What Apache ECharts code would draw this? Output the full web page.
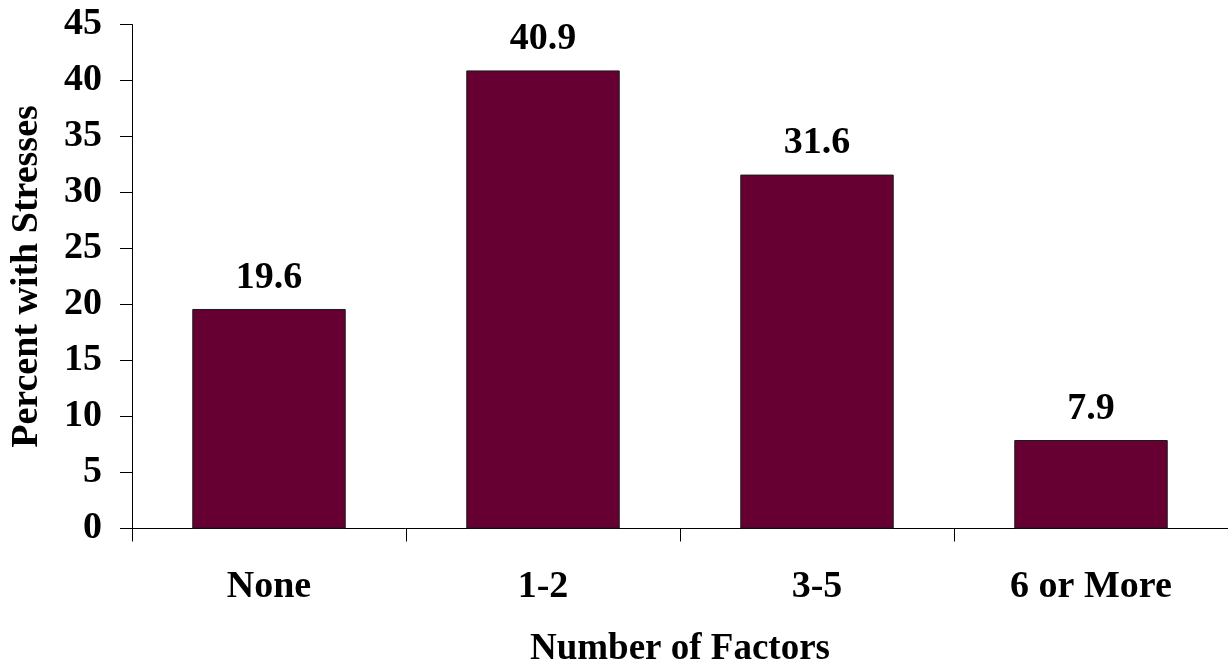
<!DOCTYPE html>
<html>
<head>
<meta charset="utf-8">
<script src="https://cdn.jsdelivr.net/npm/echarts@6/dist/echarts.min.js"></script>
<style>
html,body{margin:0;padding:0;background:#fff;}
#chart{width:1228px;height:668px;}
</style>
</head>
<body>
<div id="chart"></div>
<script>
const categories = ['None', '1-2', '3-5', '6 or More'];
const values = [19.6, 40.9, 31.6, 7.9];
const yTicks = [0, 5, 10, 15, 20, 25, 30, 35, 40, 45];

const FONT = '"Liberation Serif", "Times New Roman", serif';
const chart = echarts.init(document.getElementById('chart'), null, {renderer: 'canvas'});
chart.setOption({
  animation: false,
  backgroundColor: '#ffffff',
  grid: {left: 132, right: 0, top: 24.5, bottom: 139.5, containLabel: false, outerBoundsMode: 'none'},
  xAxis: {
    type: 'category',
    data: categories,
    name: 'Number of Factors',
    nameLocation: 'middle',
    nameGap: 102,
    nameTextStyle: {fontFamily: FONT, fontWeight: 'bold', fontSize: 37, color: '#000'},
    axisLine: {lineStyle: {color: '#000', width: 1}},
    axisTick: {show: true, length: 13, lineStyle: {color: '#000'}},
    axisLabel: {fontFamily: FONT, fontWeight: 'bold', fontSize: 38, color: '#000', margin: 40}
  },
  yAxis: {
    type: 'value',
    min: yTicks[0],
    max: yTicks[yTicks.length - 1],
    interval: 5,
    name: 'Percent with Stresses',
    nameLocation: 'middle',
    nameGap: 86,
    nameRotate: 90,
    nameTextStyle: {fontFamily: FONT, fontWeight: 'bold', fontSize: 38, color: '#000'},
    axisLine: {show: true, lineStyle: {color: '#000', width: 1}},
    axisTick: {show: true, length: 12, lineStyle: {color: '#000'}},
    splitLine: {show: false},
    axisLabel: {fontFamily: FONT, fontWeight: 'bold', fontSize: 38, color: '#000', margin: 30}
  },
  series: [{
    type: 'bar',
    data: values,
    barWidth: '56%',
    itemStyle: {color: '#660033', borderColor: '#1a1a1a', borderWidth: 1},
    label: {
      show: true,
      position: 'top',
      distance: 12,
      fontFamily: FONT,
      fontWeight: 'bold',
      fontSize: 38,
      color: '#000',
      formatter: p => p.value.toFixed(1)
    }
  }]
});
</script>
</body>
</html>
